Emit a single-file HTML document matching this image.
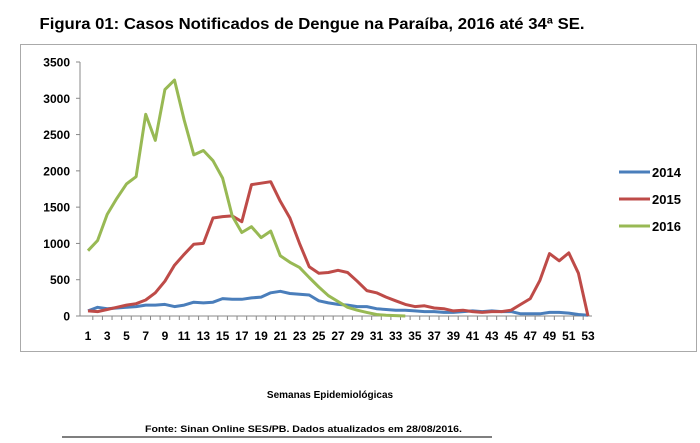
<!DOCTYPE html>
<html><head><meta charset="utf-8"><style>
body{margin:0;background:#fff;}
svg{display:block;font-family:"Liberation Sans",sans-serif;}
</style></head><body>
<svg id="s" width="700" height="443" xmlns="http://www.w3.org/2000/svg">
<text x="312" y="29" font-size="16" font-weight="bold" text-anchor="middle" textLength="545" lengthAdjust="spacingAndGlyphs">Figura 01: Casos Notificados de Dengue na Paraíba, 2016 até 34ª SE.</text>
<rect x="20.5" y="44.5" width="676" height="307" fill="none" stroke="#aaa" stroke-width="1"/>
<g id="g"></g>
<text x="330" y="398" font-size="10" font-weight="bold" text-anchor="middle">Semanas Epidemiológicas</text>
<text x="145" y="432" font-size="9" font-weight="bold" textLength="317" lengthAdjust="spacingAndGlyphs">Fonte: Sinan Online SES/PB. Dados atualizados em 28/08/2016.</text>
<line x1="62" y1="437" x2="492" y2="437" stroke="#555" stroke-width="1.5"/>
</svg>
<script>
var g=document.getElementById('g'),h='';
var x0=88,dx=(588-88)/52,y0=316,sy=254/3500;
function X(w){return x0+(w-1)*dx}function Y(v){return y0-v*sy}
h+='<line x1="80" y1="62" x2="80" y2="316" stroke="#888"/>';
h+='<line x1="80" y1="316" x2="592" y2="316" stroke="#888"/>';
for(var v=0;v<=3500;v+=500){var y=Y(v);h+='<line x1="76" y1="'+y+'" x2="80" y2="'+y+'" stroke="#888"/><text x="70" y="'+(y+4.5)+'" font-size="12" font-weight="bold" text-anchor="end">'+v+'</text>';}
for(var w=1;w<=53;w++){var x=X(w)+dx/2;if(w<53)h+='<line x1="'+x+'" y1="316" x2="'+x+'" y2="320" stroke="#888"/>';if(w%2)h+='<text x="'+X(w)+'" y="340" font-size="12" font-weight="bold" text-anchor="middle">'+w+'</text>';}
var d14=[70,120,100,110,120,130,150,150,160,130,150,190,180,190,240,230,230,250,260,320,340,310,300,290,210,180,160,150,130,130,100,90,80,80,70,60,60,50,50,60,70,60,70,60,60,30,30,30,50,50,40,20,10];
var d15=[70,60,90,120,150,170,220,320,480,700,850,990,1000,1350,1370,1380,1300,1810,1830,1850,1580,1350,1000,680,590,600,630,600,480,350,320,260,210,160,130,140,110,100,70,80,60,50,60,60,80,160,240,490,860,760,870,590,0];
var d16=[900,1040,1400,1620,1820,1920,2780,2420,3120,3250,2700,2220,2280,2140,1900,1380,1150,1230,1080,1170,830,740,670,530,400,280,200,120,80,50,20,10,5,0];
function pl(d,c){return '<polyline fill="none" stroke="'+c+'" stroke-width="3" stroke-linejoin="round" points="'+d.map(function(v,i){return X(i+1).toFixed(1)+','+Y(v).toFixed(1)}).join(' ')+'"/>'}
h+=pl(d14,'#4a7ebb')+pl(d15,'#be4b48')+pl(d16,'#98b954');
var L=[['2014','#4a7ebb',172],['2015','#be4b48',199],['2016','#98b954',226]];
L.forEach(function(l){h+='<line x1="619" y1="'+l[2]+'" x2="650" y2="'+l[2]+'" stroke="'+l[1]+'" stroke-width="3"/><text x="652" y="'+(l[2]+5)+'" font-size="13" font-weight="bold">'+l[0]+'</text>';});
g.innerHTML=h;
</script>
</body></html>
